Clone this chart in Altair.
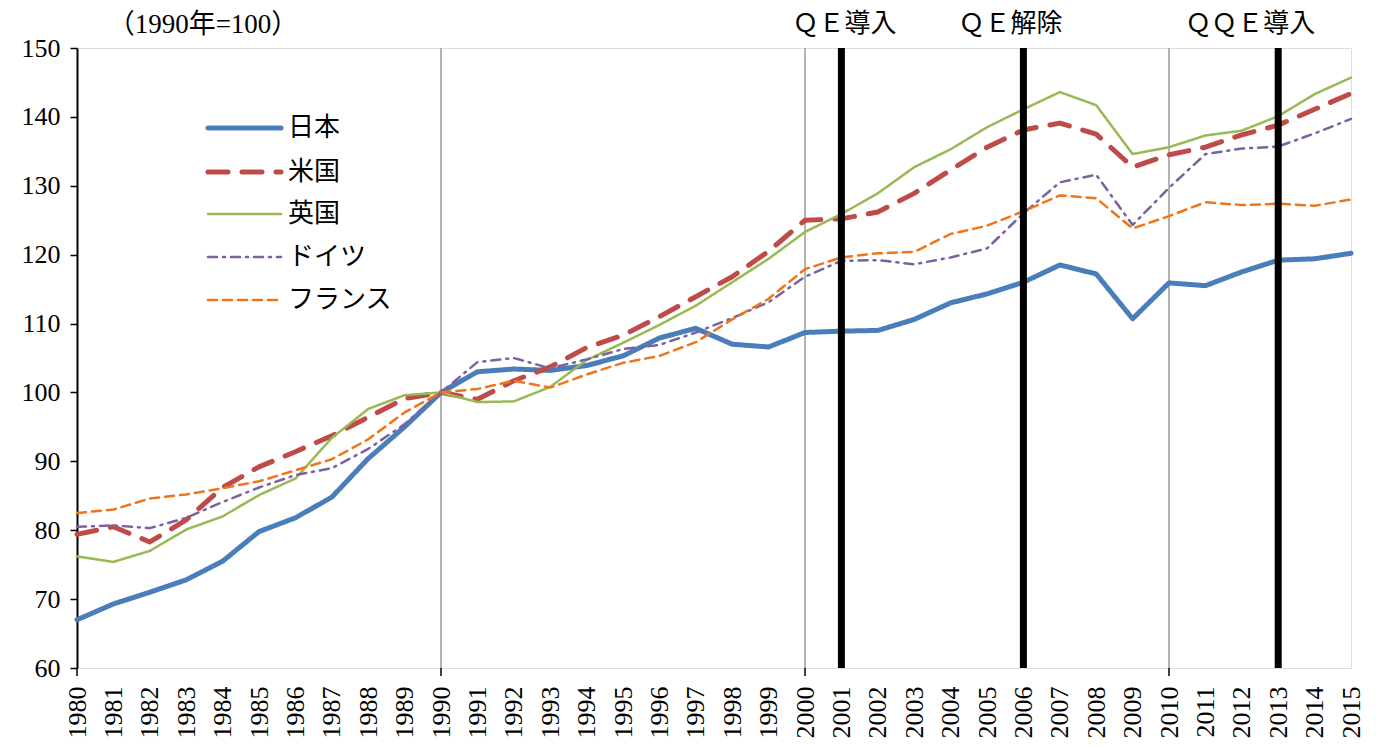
import altair as alt
import pandas as pd

years = list(range(1980, 2016))
countries = ["日本", "米国", "英国", "ドイツ", "フランス"]

japan = [67.0, 69.3, 71.0, 72.8, 75.5, 79.8, 81.8, 84.8, 90.4, 95.0,
         100.0, 103.0, 103.4, 103.2, 103.9, 105.3, 107.9, 109.3, 107.0, 106.6,
         108.7, 108.9, 109.0, 110.6, 113.0, 114.3, 116.0, 118.5, 117.2, 110.7,
         115.9, 115.5, 117.5, 119.2, 119.4, 120.2]
usa = [79.4, 80.5, 78.3, 81.5, 86.2, 89.2, 91.4, 93.7, 96.4, 99.1,
       100.0, 99.0, 101.7, 103.7, 106.5, 108.3, 111.0, 113.9, 116.8, 120.5,
       125.0, 125.2, 126.2, 128.9, 132.3, 135.6, 138.1, 139.1, 137.5, 132.7,
       134.5, 135.6, 137.4, 138.8, 141.1, 143.4]
uk = [76.2, 75.4, 77.0, 80.1, 82.0, 85.1, 87.5, 93.4, 97.6, 99.6,
      100.0, 98.6, 98.7, 100.8, 104.7, 107.2, 109.8, 112.6, 116.0, 119.4,
      123.3, 125.9, 128.9, 132.7, 135.3, 138.5, 141.1, 143.6, 141.7, 134.6,
      135.6, 137.3, 138.0, 140.1, 143.3, 145.7]
germany = [80.5, 80.7, 80.3, 81.8, 84.1, 86.2, 88.0, 89.0, 91.8, 95.4,
           100.0, 104.4, 105.0, 103.5, 104.8, 106.3, 106.9, 108.7, 110.8, 113.1,
           116.8, 119.1, 119.2, 118.6, 119.6, 120.9, 126.0, 130.5, 131.6, 124.3,
           129.7, 134.6, 135.4, 135.7, 137.6, 139.7]
france = [82.5, 83.0, 84.6, 85.2, 86.1, 87.1, 88.7, 90.3, 93.2, 97.1,
          100.0, 100.5, 101.7, 100.7, 102.6, 104.3, 105.3, 107.3, 110.6, 113.6,
          117.9, 119.6, 120.2, 120.4, 123.0, 124.2, 126.3, 128.6, 128.2, 123.8,
          125.6, 127.6, 127.2, 127.4, 127.1, 128.0]

ref_years = [1990, 2000, 2010]
tick_years = [1980, 1990, 2000, 2010]
policy_years = [2001, 2006, 2013]
policy_labels = ["ＱＥ導入", "ＱＥ解除", "ＱＱＥ導入"]
unit_label = "（1990年=100）"

colors = ["#4A7EBB", "#BE4B48", "#98B954", "#7D60A0", "#EE7518"]
dashes = [[1, 0], [20, 14], [1, 0], [9, 6, 2, 6], [9, 6]]
widths = [5, 5, 2.5, 2.5, 2.5]

FONT = "Liberation Serif, Noto Sans CJK JP"

series = [japan, usa, uk, germany, france]
rows = []
for name, vals in zip(countries, series):
    for y, v in zip(years, vals):
        rows.append({"year": y, "country": name, "value": v})
df = pd.DataFrame(rows)

xscale = alt.Scale(domain=[1980, 2015], nice=False, zero=False)
yscale = alt.Scale(domain=[60, 150], nice=False, zero=False)
xaxis = alt.Axis(values=years, format="d", labelAngle=270, labelAlign="right",
                 labelBaseline="middle", labelFontSize=26, labelFont=FONT,
                 labelColor="black", labelPadding=18, ticks=False, grid=False,
                 domain=False, title=None, labelOverlap=False)
X = alt.X("year:Q", scale=xscale, axis=xaxis)

color_scale = alt.Scale(domain=countries, range=colors)
dash_scale = alt.Scale(domain=countries, range=dashes)
width_scale = alt.Scale(type="ordinal", domain=countries, range=widths)

grey = alt.Chart(pd.DataFrame({"year": ref_years})).mark_rule(
    color="#9a9a9a", strokeWidth=1.5
).encode(x=X)

ticks = alt.Chart(pd.DataFrame({"year": tick_years})).mark_rule(
    color="black", strokeWidth=1.5
).encode(x=X, y=alt.value(620), y2=alt.value(628))

lines = alt.Chart(df).mark_line(strokeCap="round", strokeJoin="round").encode(
    x=X,
    y=alt.Y("value:Q", scale=yscale,
            axis=alt.Axis(values=list(range(60, 151, 10)), labelFontSize=26, labelFont=FONT,
                          labelColor="black", tickSize=7, tickColor="black", tickWidth=1.5,
                          domainColor="black", domainWidth=2, grid=False, title=None,
                          labelPadding=10)),
    color=alt.Color("country:N", scale=color_scale, legend=None),
    strokeDash=alt.StrokeDash("country:N", scale=dash_scale, legend=None),
    strokeWidth=alt.StrokeWidth("country:N", scale=width_scale, legend=None),
    order=alt.Order("year:Q"),
)

policy = alt.Chart(pd.DataFrame({"year": policy_years})).mark_rule(
    color="black", strokeWidth=7
).encode(x=X)

texts = []
for yr, lab, dx in zip(policy_years, policy_labels, [3, -13, -28]):
    texts.append(
        alt.Chart(pd.DataFrame({"year": [yr], "label": [lab]})).mark_text(
            fontSize=26, font=FONT, color="black", align="center", baseline="middle", dx=dx
        ).encode(x=X, y=alt.value(-24), text="label:N")
    )

unit = alt.Chart(pd.DataFrame({"label": [unit_label]})).mark_text(
    fontSize=27, font=FONT, color="black", align="center", baseline="middle"
).encode(x=alt.value(126), y=alt.value(-23), text="label:N")

# manual legend
legend_rows_y = [80, 124, 166, 209, 252]
legend_layers = []
for name, ly in zip(countries, legend_rows_y):
    ldf = pd.DataFrame({"country": [name]})
    legend_layers.append(
        alt.Chart(ldf).mark_rule(strokeCap="round").encode(
            x=alt.value(131), x2=alt.value(204), y=alt.value(ly),
            color=alt.Color("country:N", scale=color_scale, legend=None),
            strokeDash=alt.StrokeDash("country:N", scale=dash_scale, legend=None),
            strokeWidth=alt.StrokeWidth("country:N", scale=width_scale, legend=None),
        )
    )
    legend_layers.append(
        alt.Chart(ldf).mark_text(
            fontSize=26, font=FONT, color="black", align="left", baseline="middle"
        ).encode(x=alt.value(211), y=alt.value(ly), text="country:N")
    )

chart = alt.layer(grey, ticks, lines, policy, *texts, unit, *legend_layers).properties(
    width=1274, height=620,
    autosize=alt.AutoSizeParams(type="none"),
    padding={"left": 69, "top": 40, "right": 17, "bottom": 70},
).configure_view(stroke="black", strokeWidth=2).configure(background="white")

chart.save("out.html", embed_options={"renderer": "svg", "actions": False})
